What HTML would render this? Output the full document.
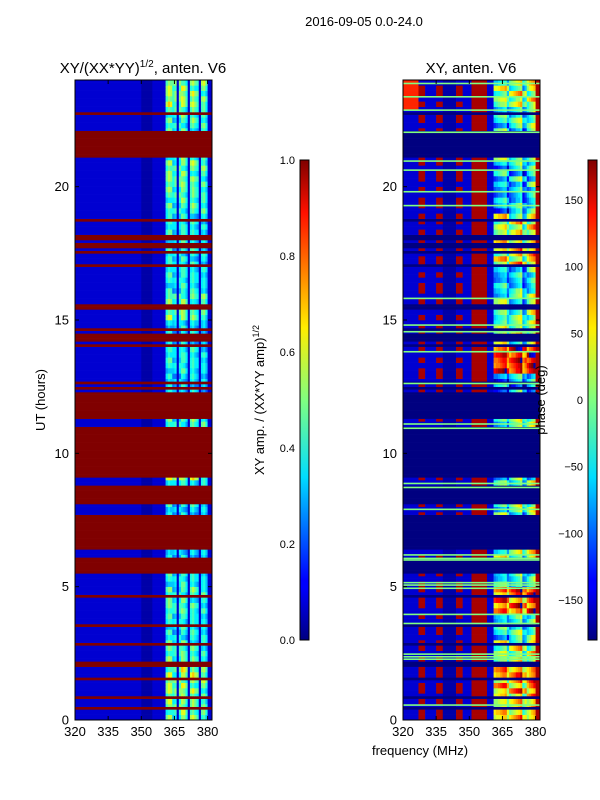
<!DOCTYPE html>
<html><head><meta charset="utf-8"><style>
body{margin:0;background:#fff}
svg{display:block;font-family:"Liberation Sans","DejaVu Sans",sans-serif}
</style></head><body>
<svg id="fig" width="600" height="800" viewBox="0 0 600 800">
<defs>
<linearGradient id="jet" x1="0" y1="1" x2="0" y2="0">
<stop offset="0" stop-color="#000080"/><stop offset="0.11" stop-color="#0000ff"/><stop offset="0.125" stop-color="#0000ff"/>
<stop offset="0.34" stop-color="#00ddff"/><stop offset="0.5" stop-color="#80ff80"/><stop offset="0.65" stop-color="#ffee00"/>
<stop offset="0.89" stop-color="#ff1000"/><stop offset="1" stop-color="#800000"/>
</linearGradient>
</defs>
<text x="364" y="26" font-size="13" text-anchor="middle">2016-09-05 0.0-24.0</text>
<text x="143" y="73" font-size="15" text-anchor="middle">XY/(XX*YY)<tspan font-size="10" dy="-6">1/2</tspan><tspan dy="6">, anten. V6</tspan></text>
<text x="471" y="73" font-size="15" text-anchor="middle">XY, anten. V6</text>
<g id="left"></g>
<g id="right"></g>
<g id="axes"></g>
<rect x="300" y="160" width="9" height="480" fill="url(#jet)" stroke="#000" stroke-width="1"/>
<rect x="588" y="160" width="9" height="480" fill="url(#jet)" stroke="#000" stroke-width="1"/>
<text transform="translate(264,400) rotate(-90)" font-size="13" text-anchor="middle">XY amp. / (XX*YY amp)<tspan font-size="9" dy="-5">1/2</tspan></text>
<text transform="translate(545,400) rotate(-90)" font-size="13" text-anchor="middle">phase (deg)</text>
<text transform="translate(45,400) rotate(-90)" font-size="13" text-anchor="middle">UT (hours)</text>
<text x="420" y="755" font-size="13" text-anchor="middle">frequency (MHz)</text>
</svg>
<script>
const hours = 24;
const freqStart = 320, freqEnd = 382;
const flaggedRanges = [[0.40,0.48],[0.85,0.88],[1.55,1.58],[2.05,2.2],[2.8,2.85],[3.55,3.58],[4.6,4.65],[5.47,5.96],[6.0,6.03],[6.1,6.13],[6.45,7.72],[8.1,8.74],[9.1,10.95],[11.3,12.3],[12.4,12.45],[12.6,12.65],[13.2,13.23],[13.7,13.73],[14.0,14.05],[14.2,14.25],[14.35,14.5],[14.6,14.7],[15.4,15.45],[15.55,15.58],[15.68,15.72],[16.27,16.3],[17.0,17.03],[17.55,17.6],[17.7,17.75],[17.85,17.9],[18.0,18.05],[18.1,18.15],[18.72,18.75],[21.1,22.05],[22.67,22.79]];
const greenLines = [23.87,23.37,22.87,22.04,20.96,20.62,19.81,19.29,15.81,14.81,14.56,13.81,12.62,11.1,10.94,8.87,8.72,7.9,6.19,6.06,6.0,5.15,5.06,4.94,3.96,3.62,2.47,2.37,2.28,0.56];
const ampCol = [0.06,0.06,0.06,0.07,0.07,0.07,0.06,0.06,0.06,0.06,0.07,0.07,0.07,0.06,0.06,0.06,0.06,0.07,0.07,0.07,0.06,0.06,0.06,0.06,0.06,0.06,0.07,0.07,0.06,0.06,0.05,0.05,0.05,0.05,0.05,0.06,0.06,0.06,0.07,0.07,0.07,
 0.42,0.5,0.48,0.38,0.42,0.06,0.42,0.5,0.48,0.38,0.07,0.45,0.5,0.42,0.38,0.07,0.42,0.46,0.36,0.07,0.07];
const ampRow = [1.1,1.2,1.0,0.9,1.0,0.9,0.8,0.8,0.9,1.3,1,1,0.8,0.9,0.8,1.1,0.9,0.9,0.9,1.0,1.1,1.0,1.0,1.2];
const fineRow = [1,0.85,1.05,0.75,0.95,1.1,0.85,1.0];
const phaseBase = [-150,-150,-150,-150,-150,-150,-150,170,170,170,-155,-155,-155,-155,-155,170,170,170,-160,-160,-160,-160,-160,-160,170,170,170,-155,-155,-155,-155,165,165,165,165,165,165,165,-150,-150,-150];
const phaseRegion = [60,90,30,-20,120,-20,30,0,0,-30,0,0,-60,150,20,0,-40,60,40,-50,-40,10,-20,30];
const phaseColOffset = [-60,-50,-40,-30,-20,-10,-70,-60,-40,-30,-10,0,20,-80,-60,-40,-20,0,20];
const finePhase = [0,30,-20,60,-40,20,50,-10];
const edgePhase = 165;

const SVGNS="http://www.w3.org/2000/svg";
const yTop=80, yBot=720;
function yScale(t){return yBot-(t/hours)*(yBot-yTop);}
function xScaleL(f){return 75+(f-freqStart)/(freqEnd-freqStart)*137;}
function xScaleR(f){return 403+(f-freqStart)/(freqEnd-freqStart)*137;}
function jet(v){v=Math.max(0,Math.min(1,v));
 const c=x=>Math.round(255*Math.max(0,Math.min(1,x)));
 const r=c(1.5-Math.abs(4*v-3)),g=c(1.5-Math.abs(4*v-2)),b=c(1.5-Math.abs(4*v-1));
 return `rgb(${r},${g},${b})`;}
function flagged(t){return flaggedRanges.some(r=>t+0.05>=r[0]&&t+0.05<=r[1]+0.02);}
function wrap(p){while(p>180)p-=360;while(p<-180)p+=360;return p;}
const rows=240, dt=hours/rows, nf=freqEnd-freqStart;
const L=document.getElementById('left'), R=document.getElementById('right');
function runs(g,t,vals,xs){
 let s=0;
 for(let j=1;j<=vals.length;j++){
  if(j===vals.length||vals[j]!==vals[s]){
   const r=document.createElementNS(SVGNS,'rect');
   const x0=xs(freqStart+s), x1=xs(freqStart+j);
   r.setAttribute('x',x0.toFixed(2));r.setAttribute('y',yScale(t+dt).toFixed(2));
   r.setAttribute('width',(x1-x0+0.3).toFixed(2));r.setAttribute('height',(yScale(t)-yScale(t+dt)+0.3).toFixed(2));
   r.setAttribute('fill',vals[s]);
   
   
   g.appendChild(r);s=j;}
 }
}
for(let i=0;i<rows;i++){
 const t=i*dt, h=Math.min(23,Math.floor(t));
 const fl=flagged(t);
 const la=[], pa=[];
 for(let j=0;j<nf;j++){
  if(fl){la.push(jet(1));pa.push(jet(0));continue;}
  let a=ampCol[j];
  if(a>0.3) a=a*ampRow[h]*fineRow[((i>>1)+(j>>2))%8];
  la.push(jet(Math.round(a*25)/25));
  let p;
  if(j<phaseBase.length){
   p=phaseBase[j];
   if(p>0 && j<30 && finePhase[(i>>1)%8]<0) p=-155;
   if(t>22.8 && j<7) p=120;
  } else if(j<phaseBase.length+phaseColOffset.length){
   p=wrap(phaseRegion[h]+phaseColOffset[j-phaseBase.length]+finePhase[((i>>1)+(j>>3))%8]);
  } else p=edgePhase;
  pa.push(jet(Math.round(((p+180)/360)*25)/25));
 }
 runs(L,t,la,xScaleL);runs(R,t,pa,xScaleR);
}
greenLines.forEach(t=>{
 const r=document.createElementNS(SVGNS,'rect');
 r.setAttribute('x',403);r.setAttribute('y',(yScale(t)-0.8).toFixed(2));
 r.setAttribute('width',137);r.setAttribute('height',1.6);r.setAttribute('fill',jet(0.5));
 
 
 R.appendChild(r);
});
const A=document.getElementById('axes');
function el(tag,attrs,txt){const e=document.createElementNS(SVGNS,tag);for(const k in attrs)e.setAttribute(k,attrs[k]);if(txt!==undefined)e.textContent=txt;A.appendChild(e);return e;}
const yTicks=[0,5,10,15,20], xTicks=[320,335,350,365,380];
[[75,xScaleL,'left'],[403,xScaleR,'right']].forEach(([x0,xs,nm])=>{
 const fr=el('rect',{x:x0,y:80,width:137,height:640,fill:'none',stroke:'#000','stroke-width':1});
 
 
 yTicks.forEach(v=>{const y=yScale(v);
  el('line',{x1:x0,x2:x0+4,y1:y,y2:y,stroke:'#000'});el('line',{x1:x0+133,x2:x0+137,y1:y,y2:y,stroke:'#000'});
  const tx=el('text',{x:x0-6,y:y+4.5,'font-size':13,'text-anchor':'end'},String(v));
  
  });
 xTicks.forEach(v=>{const x=xs(v);
  el('line',{x1:x,x2:x,y1:720,y2:716,stroke:'#000'});el('line',{x1:x,x2:x,y1:80,y2:84,stroke:'#000'});
  const tx=el('text',{x:x,y:736,'font-size':13,'text-anchor':'middle'},String(v));
  
  });
});
const ampTicks=[0.0,0.2,0.4,0.6,0.8,1.0];
ampTicks.forEach(v=>{const y=640-v*480;
 el('line',{x1:300,x2:304,y1:y,y2:y,stroke:'#000'});
 const tx=el('text',{x:295,y:y+4,'font-size':11,'text-anchor':'end'},v.toFixed(1));
 
 });
const phaseTicks=[-150,-100,-50,0,50,100,150];
phaseTicks.forEach(v=>{const y=400-v*480/360;
 el('line',{x1:588,x2:592,y1:y,y2:y,stroke:'#000'});
 const tx=el('text',{x:583,y:y+4,'font-size':11,'text-anchor':'end'},v<0?'\u2212'+(-v):String(v));
 
 });
</script>
</body></html>
